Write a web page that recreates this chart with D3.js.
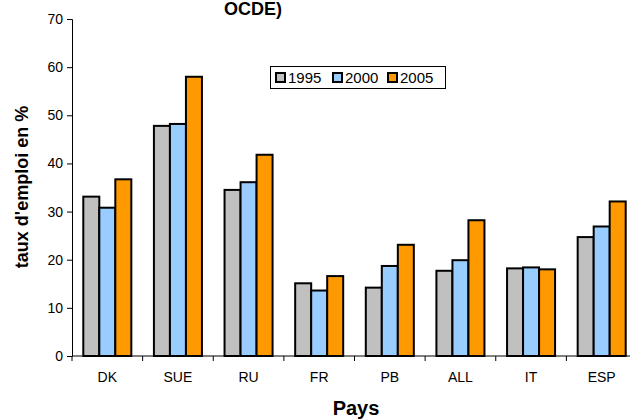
<!DOCTYPE html>
<html><head><meta charset="utf-8">
<script src="https://cdn.jsdelivr.net/npm/d3@7"></script>
<style>body{margin:0;background:#fff}svg{display:block;font-family:Arial,"Liberation Sans",sans-serif}</style>
</head><body>
<svg id="c" width="630" height="420"></svg>
<script>
const categories = ["DK","SUE","RU","FR","PB","ALL","IT","ESP"];
const seriesNames = ["1995","2000","2005"];
const v1995 = [33.1,47.8,34.5,15.1,14.2,17.7,18.2,24.7];
const v2000 = [30.8,48.2,36.1,13.6,18.7,19.9,18.4,26.9];
const v2005 = [36.7,58.0,41.8,16.6,23.1,28.2,18.0,32.1];
const colors = ["#C0C0C0","#99CCFF","#FF9900"];
const yTicks = [0,10,20,30,40,50,60,70];

const series = [v1995, v2000, v2005];
const svg = d3.select("#c");
const mLeft = 72, mRight = 637, mTop = 19, mBottom = 356;

const x0 = d3.scaleBand().domain(categories).range([mLeft, mRight]).padding(0);
const bw = x0.bandwidth();
const x1 = d3.scaleBand().domain(seriesNames).range([bw*0.16, bw*0.84]).padding(0);
const y = d3.scaleLinear().domain([0,70]).range([mBottom, mTop]);

// bars
const g = svg.append("g");
categories.forEach((c, i) => {
  seriesNames.forEach((s, j) => {
    const val = series[j][i];
    g.append("rect")
      .attr("x", x0(c) + x1(s))
      .attr("y", y(val))
      .attr("width", x1.bandwidth())
      .attr("height", y(0) - y(val))
      .attr("fill", colors[j])
      .attr("stroke", "#000")
      .attr("stroke-width", 2);
  });
});

// y axis
const yAxis = d3.axisLeft(y).tickValues(yTicks).tickSize(5).tickPadding(4).tickFormat(d3.format("d"));
const ya = svg.append("g").attr("transform", `translate(${mLeft},0)`).call(yAxis);
ya.select(".domain").attr("stroke", "#000");
ya.selectAll("text").attr("font-size", 14).attr("fill", "#000").attr("font-family", "Arial, 'Liberation Sans', sans-serif");

// x axis
const xa = svg.append("g").attr("transform", `translate(0,${mBottom})`);
xa.append("line").attr("x1", mLeft).attr("x2", mRight).attr("y1", 0).attr("y2", 0).attr("stroke", "#000");
categories.forEach(c => {
  xa.append("line").attr("x1", x0(c)).attr("x2", x0(c)).attr("y1", 0).attr("y2", 5).attr("stroke", "#000");
  xa.append("text").attr("x", x0(c) + bw/2).attr("y", 26).attr("text-anchor", "middle")
    .attr("font-size", 14).text(c);
});

// titles
svg.append("text").attr("x", 253).attr("y", 15).attr("text-anchor", "middle")
  .attr("font-size", 18).attr("font-weight", "bold").text("OCDE)");
svg.append("text").attr("x", 356).attr("y", 415).attr("text-anchor", "middle")
  .attr("font-size", 20).attr("font-weight", "bold").text("Pays");
svg.append("text").attr("transform", "translate(28,187) rotate(-90)").attr("text-anchor", "middle")
  .attr("font-size", 18).attr("font-weight", "bold").text("taux d'emploi en %");

// legend
const lg = svg.append("g");
lg.append("rect").attr("x", 270.5).attr("y", 66.5).attr("width", 175).attr("height", 22)
  .attr("fill", "#fff").attr("stroke", "#000").attr("stroke-width", 1);
const lx = [276, 333, 388];
seriesNames.forEach((s, j) => {
  lg.append("rect").attr("x", lx[j]).attr("y", 73).attr("width", 9).attr("height", 9)
    .attr("fill", colors[j]).attr("stroke", "#000").attr("stroke-width", 2);
  lg.append("text").attr("x", lx[j] + 12).attr("y", 83).attr("font-size", 15).text(s);
});
</script>
</body></html>
